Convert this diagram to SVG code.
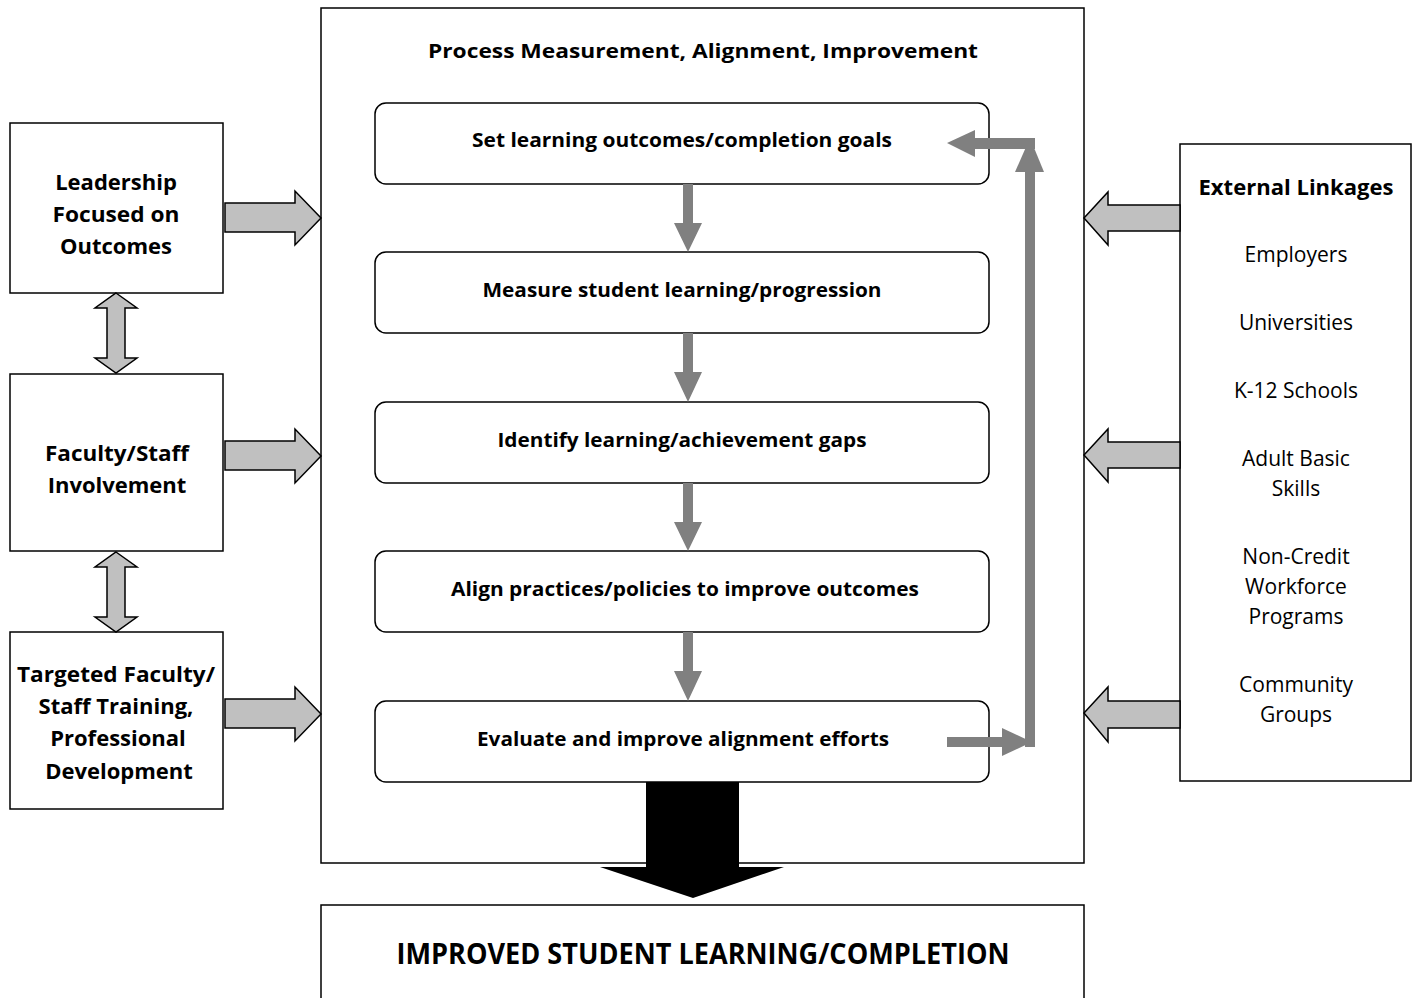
<svg xmlns="http://www.w3.org/2000/svg" width="1419" height="998" viewBox="0 0 1419 998">
<style>
.box{fill:#fff;stroke:#000;stroke-width:1.5}
.rbox{fill:#fff;stroke:#000;stroke-width:1.5}
.hollow{fill:#c0c0c0;stroke:#000;stroke-width:1.5;stroke-linejoin:miter}
.gray{fill:#808080;stroke:none}
text{font-family:"Open Sans","Noto Sans","Liberation Sans",sans-serif;fill:#000;text-anchor:middle}
.b{font-weight:bold}
.t20{font-size:20px}
.t21{font-size:21px}
.t22{font-size:22px}
.t28{font-size:28px}
</style>
<rect width="1419" height="998" fill="#fff"/>

<g id="main-process">
<rect class="box" x="321" y="8" width="763" height="855"/>
<text class="b t20" x="703" y="58" textLength="550" lengthAdjust="spacingAndGlyphs">Process Measurement, Alignment, Improvement</text>
</g>

<g id="step1">
<rect class="rbox" x="375" y="103" width="614" height="81" rx="11"/>
<text class="b t20" x="682" y="147" textLength="420" lengthAdjust="spacingAndGlyphs">Set learning outcomes/completion goals</text>
</g>
<g id="step2">
<rect class="rbox" x="375" y="252" width="614" height="81" rx="11"/>
<text class="b t20" x="682" y="297" textLength="399" lengthAdjust="spacingAndGlyphs">Measure student learning/progression</text>
</g>
<g id="step3">
<rect class="rbox" x="375" y="402" width="614" height="81" rx="11"/>
<text class="b t20" x="682" y="447" textLength="369" lengthAdjust="spacingAndGlyphs">Identify learning/achievement gaps</text>
</g>
<g id="step4">
<rect class="rbox" x="375" y="551" width="614" height="81" rx="11"/>
<text class="b t20" x="685" y="596" textLength="468" lengthAdjust="spacingAndGlyphs">Align practices/policies to improve outcomes</text>
</g>
<g id="step5">
<rect class="rbox" x="375" y="701" width="614" height="81" rx="11"/>
<text class="b t20" x="683" y="746" textLength="412" lengthAdjust="spacingAndGlyphs">Evaluate and improve alignment efforts</text>
</g>

<g id="leadership">
<rect class="box" x="10" y="123" width="213" height="170"/>
<text class="b t22" x="116" y="190">Leadership</text>
<text class="b t22" x="116" y="222" textLength="127" lengthAdjust="spacingAndGlyphs">Focused on</text>
<text class="b t22" x="116" y="254">Outcomes</text>
</g>
<g id="faculty">
<rect class="box" x="10" y="374" width="213" height="177"/>
<text class="b t22" x="117" y="461" textLength="144" lengthAdjust="spacingAndGlyphs">Faculty/Staff</text>
<text class="b t22" x="117" y="493">Involvement</text>
</g>
<g id="training">
<rect class="box" x="10" y="632" width="213" height="177"/>
<text class="b t22" x="116" y="682" textLength="198" lengthAdjust="spacingAndGlyphs">Targeted Faculty/</text>
<text class="b t22" x="116" y="714">Staff Training,</text>
<text class="b t22" x="118" y="746">Professional</text>
<text class="b t22" x="119" y="779">Development</text>
</g>

<g id="external">
<rect class="box" x="1180" y="144" width="231" height="637"/>
<text class="b t22" x="1296" y="195" textLength="195" lengthAdjust="spacingAndGlyphs">External Linkages</text>
<text class="t21" x="1296" y="262">Employers</text>
<text class="t21" x="1296" y="330">Universities</text>
<text class="t21" x="1296" y="398">K-12 Schools</text>
<text class="t21" x="1296" y="466">Adult Basic</text>
<text class="t21" x="1296" y="496">Skills</text>
<text class="t21" x="1296" y="564">Non-Credit</text>
<text class="t21" x="1296" y="594">Workforce</text>
<text class="t21" x="1296" y="624">Programs</text>
<text class="t21" x="1296" y="692">Community</text>
<text class="t21" x="1296" y="722">Groups</text>
</g>

<g id="outcome">
<rect class="box" x="321" y="905" width="763" height="100"/>
<text class="b t28" x="703" y="964" textLength="613" lengthAdjust="spacingAndGlyphs">IMPROVED STUDENT LEARNING/COMPLETION</text>
</g>

<g id="connectors">
<polygon class="hollow" points="225,203 295,203 295,191 321,218 295,245 295,232 225,232"/>
<polygon class="hollow" points="225,441 295,441 295,429 321,456 295,483 295,470 225,470"/>
<polygon class="hollow" points="225,699 295,699 295,687 321,714 295,741 295,728 225,728"/>

<polygon class="hollow" points="1180,205 1108,205 1108,192 1084,218 1108,245 1108,231 1180,231"/>
<polygon class="hollow" points="1180,442 1108,442 1108,429 1084,455 1108,482 1108,468 1180,468"/>
<polygon class="hollow" points="1180,701 1108,701 1108,687 1084,713 1108,742 1108,728 1180,728"/>

<polygon class="hollow" points="116,293 137,308 125,308 125,358 137,358 116,373 95,358 107,358 107,308 95,308"/>
<polygon class="hollow" points="116,552 137,567 125,567 125,617 137,617 116,632 95,617 107,617 107,567 95,567"/>

<polygon class="gray" points="683,184 693,184 693,223 702,223 688,252 674,223 683,223"/>
<polygon class="gray" points="683,333 693,333 693,372 702,372 688,402 674,372 683,372"/>
<polygon class="gray" points="683,483 693,483 693,522 702,522 688,551 674,522 683,522"/>
<polygon class="gray" points="683,632 693,632 693,671 702,671 688,701 674,671 683,671"/>

<rect class="gray" x="947" y="737" width="56" height="10"/>
<polygon class="gray" points="1002,728 1032,742 1002,756"/>
<rect class="gray" x="1025" y="170" width="10" height="577"/>
<polygon class="gray" points="1015,172 1030,138 1044,172"/>
<rect class="gray" x="974" y="138" width="61" height="11"/>
<polygon class="gray" points="975,130 947,143 975,157"/>

<polygon fill="#000" points="646,782 739,782 739,867 784,867 693,898 600,867 646,867"/>
</g>
</svg>
